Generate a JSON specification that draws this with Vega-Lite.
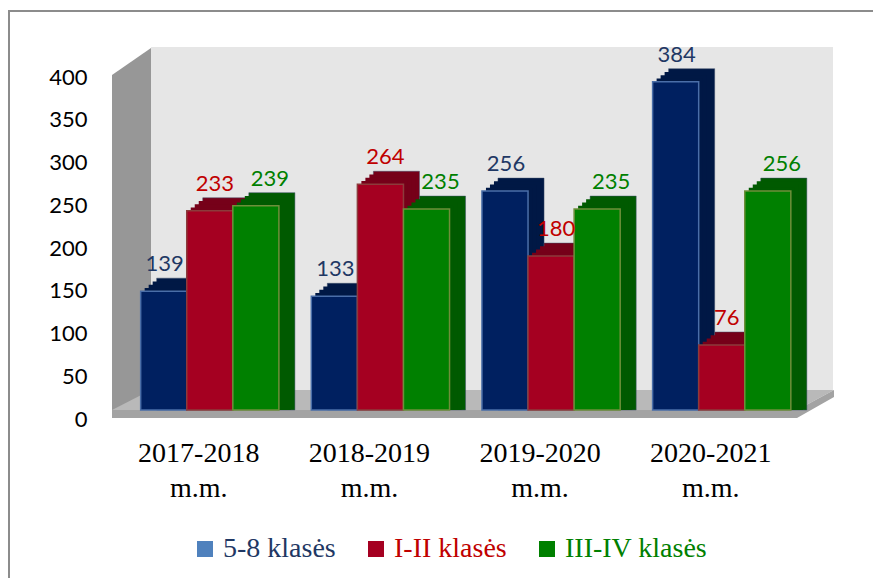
{
  "$schema": "https://vega.github.io/schema/vega-lite/v6.json",
  "width": 686,
  "height": 342,
  "autosize": {"type": "none"},
  "padding": {"left": 112, "top": 68, "right": 75, "bottom": 168},
  "background": "white",
  "config": {"view": {"stroke": null}, "font": "Lato"},
  "data": {
    "values": [
      {"year": "2017-2018 m.m.", "series": "5-8 klasės", "value": 139},
      {"year": "2017-2018 m.m.", "series": "I-II klasės", "value": 233},
      {"year": "2017-2018 m.m.", "series": "III-IV klasės", "value": 239},
      {"year": "2018-2019 m.m.", "series": "5-8 klasės", "value": 133},
      {"year": "2018-2019 m.m.", "series": "I-II klasės", "value": 264},
      {"year": "2018-2019 m.m.", "series": "III-IV klasės", "value": 235},
      {"year": "2019-2020 m.m.", "series": "5-8 klasės", "value": 256},
      {"year": "2019-2020 m.m.", "series": "I-II klasės", "value": 180},
      {"year": "2019-2020 m.m.", "series": "III-IV klasės", "value": 235},
      {"year": "2020-2021 m.m.", "series": "5-8 klasės", "value": 384},
      {"year": "2020-2021 m.m.", "series": "I-II klasės", "value": 76},
      {"year": "2020-2021 m.m.", "series": "III-IV klasės", "value": 256}
    ]
  },
  "layer": [
    {
      "data": {"values": [{}]},
      "mark": {"type": "point", "shape": "M -446 345 L -446 -228 L 425 -228", "size": 4, "filled": false, "fill": "transparent", "stroke": "#8c8c8c", "strokeWidth": 2, "opacity": 1},
      "encoding": {}
    },
    {
      "data": {"values": [{}]},
      "mark": {"type": "point", "shape": "M -304 -192 L 378 -192 L 378 151 L -304 151 Z", "size": 4, "filled": true, "fill": "#e6e6e6", "strokeWidth": 0, "opacity": 1},
      "encoding": {}
    },
    {
      "data": {"values": [{}]},
      "mark": {"type": "point", "shape": "M -343 -164 L -304 -191 L -304 151 L -343 179 Z", "size": 4, "filled": true, "fill": "#979797", "strokeWidth": 0, "opacity": 1},
      "encoding": {}
    },
    {
      "data": {"values": [{}]},
      "mark": {"type": "point", "shape": "M -343 171 L -304 151 L 379 151 L 342 171 Z", "size": 4, "filled": true, "fill": "#b9b9b9", "strokeWidth": 0, "opacity": 1},
      "encoding": {}
    },
    {
      "data": {"values": [{}]},
      "mark": {"type": "point", "shape": "M -343 171 L 342 171 L 379 151 L 379 158 L 342 179 L -343 179 Z", "size": 4, "filled": true, "fill": "#a3a3a3", "strokeWidth": 0, "opacity": 1},
      "encoding": {}
    },
    {
      "resolve": {"scale": {"xOffset": "independent", "fill": "independent"}},
      "encoding": {
        "x": {
          "field": "year", "type": "nominal",
          "scale": {"paddingInner": 0.19, "paddingOuter": 0.105, "align": 0.8},
          "axis": {"title": null, "domain": false, "ticks": false, "tickSize": 0, "grid": false, "labelAngle": 0, "labelFont": "Liberation Serif", "labelFontSize": 28, "labelColor": "#000000", "labelPadding": 29, "labelOffset": -11, "labelLineHeight": 35, "labelLimit": 300, "labelExpr": "split(datum.label, ' ')"}
        },
        "y": {
          "field": "value", "type": "quantitative", "stack": null,
          "scale": {"domain": [0, 400], "nice": false},
          "axis": {"title": null, "domain": false, "ticks": false, "tickSize": 0, "grid": false, "values": [0, 50, 100, 150, 200, 250, 300, 350, 400], "labelFont": "Lato", "labelFontSize": 22, "labelColor": "#000000", "labelPadding": 25, "labelOffset": 9}
        }
      },
      "layer": [
        {
          "mark": {"type": "bar", "yOffset": -13, "y2Offset": -13, "stroke": "#3d4f6a", "strokeWidth": 0.8, "strokeOpacity": 0.6},
          "encoding": {
            "xOffset": {"field": "series", "type": "nominal", "scale": {"domain": ["5-8 klasės", "I-II klasės", "III-IV klasės"], "range": [16, 154.224]}},
            "fill": {"field": "series", "type": "nominal", "scale": {"domain": ["5-8 klasės", "I-II klasės", "III-IV klasės"], "range": ["#001845", "#760019", "#005a00"]}, "legend": null}
          }
        },
        {
          "mark": {"type": "bar", "yOffset": -9.75, "y2Offset": -9.75},
          "encoding": {
            "xOffset": {"field": "series", "type": "nominal", "scale": {"domain": ["5-8 klasės", "I-II klasės", "III-IV klasės"], "range": [12, 150.224]}},
            "fill": {"field": "series", "type": "nominal", "scale": {"domain": ["5-8 klasės", "I-II klasės", "III-IV klasės"], "range": ["#001845", "#760019", "#005a00"]}, "legend": null}
          }
        },
        {
          "mark": {"type": "bar", "yOffset": -6.5, "y2Offset": -6.5},
          "encoding": {
            "xOffset": {"field": "series", "type": "nominal", "scale": {"domain": ["5-8 klasės", "I-II klasės", "III-IV klasės"], "range": [8, 146.224]}},
            "fill": {"field": "series", "type": "nominal", "scale": {"domain": ["5-8 klasės", "I-II klasės", "III-IV klasės"], "range": ["#001845", "#760019", "#005a00"]}, "legend": null}
          }
        },
        {
          "mark": {"type": "bar", "yOffset": -3.25, "y2Offset": -3.25},
          "encoding": {
            "xOffset": {"field": "series", "type": "nominal", "scale": {"domain": ["5-8 klasės", "I-II klasės", "III-IV klasės"], "range": [4, 142.224]}},
            "fill": {"field": "series", "type": "nominal", "scale": {"domain": ["5-8 klasės", "I-II klasės", "III-IV klasės"], "range": ["#001845", "#760019", "#005a00"]}, "legend": null}
          }
        },
        {
          "mark": {"type": "bar", "strokeWidth": 1.5, "opacity": 1},
          "encoding": {
            "xOffset": {"field": "series", "type": "nominal", "scale": {"domain": ["5-8 klasės", "I-II klasės", "III-IV klasės"]}},
            "fill": {"field": "series", "type": "nominal", "scale": {"domain": ["5-8 klasės", "I-II klasės", "III-IV klasės"], "range": ["#002060", "#a50021", "#008000"]}, "legend": null},
            "stroke": {"field": "series", "type": "nominal", "scale": {"domain": ["5-8 klasės", "I-II klasės", "III-IV klasės"], "range": ["#4a6ea8", "#8c3b3b", "#6e8f3a"]}, "legend": null}
          }
        },
        {
          "mark": {"type": "point", "size": 0, "filled": true, "strokeWidth": 1.5, "opacity": 1},
          "encoding": {
            "fill": {
              "field": "series", "type": "nominal",
              "scale": {"domain": ["5-8 klasės", "I-II klasės", "III-IV klasės"], "range": ["#4f81bd", "#a50021", "#008000"]},
              "legend": {
                "orient": "none", "legendX": 79, "legendY": 467, "direction": "horizontal", "title": null,
                "symbolType": "square", "symbolSize": 256, "symbolStrokeWidth": 1.5, "symbolOpacity": 1,
                "labelFont": "Liberation Serif", "labelFontSize": 28, "labelOffset": 4, "columnPadding": 26, "padding": 0, "labelLimit": 300,
                "labelColor": {"expr": "datum.value === '5-8 klasės' ? '#1f3864' : datum.value === 'I-II klasės' ? '#c00000' : '#008000'"}
              }
            },
            "stroke": {
              "field": "series", "type": "nominal",
              "legend": {
                "orient": "none", "legendX": 79, "legendY": 467, "direction": "horizontal", "title": null,
                "symbolType": "square", "symbolSize": 256, "symbolStrokeWidth": 1.5, "symbolOpacity": 1,
                "labelFont": "Liberation Serif", "labelFontSize": 28, "labelOffset": 4, "columnPadding": 26, "padding": 0, "labelLimit": 300,
                "labelColor": {"expr": "datum.value === '5-8 klasės' ? '#1f3864' : datum.value === 'I-II klasės' ? '#c00000' : '#008000'"}
              }
            }
          }
        },
        {
          "transform": [{"filter": "datum.series == '5-8 klasės'"}],
          "mark": {"type": "text", "font": "Lato", "fontSize": 22, "baseline": "alphabetic", "dy": -20, "dx": 1, "color": "#1f3864"},
          "encoding": {
            "xOffset": {"field": "series", "type": "nominal", "scale": {"domain": ["5-8 klasės", "I-II klasės", "III-IV klasės"]}},
            "text": {"field": "value", "type": "quantitative"}
          }
        },
        {
          "transform": [{"filter": "datum.series == 'I-II klasės'"}],
          "mark": {"type": "text", "font": "Lato", "fontSize": 22, "baseline": "alphabetic", "dy": -20, "dx": 5, "color": "#c00000"},
          "encoding": {
            "xOffset": {"field": "series", "type": "nominal", "scale": {"domain": ["5-8 klasės", "I-II klasės", "III-IV klasės"]}},
            "text": {"field": "value", "type": "quantitative"}
          }
        },
        {
          "transform": [{"filter": "datum.series == 'III-IV klasės'"}],
          "mark": {"type": "text", "font": "Lato", "fontSize": 22, "baseline": "alphabetic", "dy": -20, "dx": 14, "color": "#008000"},
          "encoding": {
            "xOffset": {"field": "series", "type": "nominal", "scale": {"domain": ["5-8 klasės", "I-II klasės", "III-IV klasės"]}},
            "text": {"field": "value", "type": "quantitative"}
          }
        }
      ]
    }
  ]
}
